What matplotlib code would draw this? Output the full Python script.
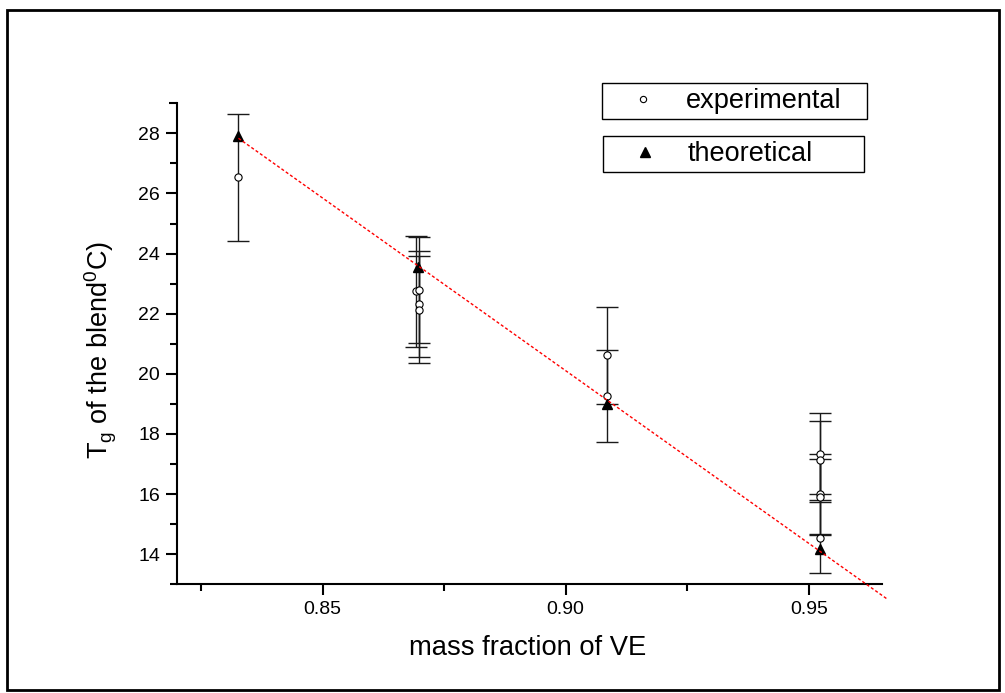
import numpy as np
import matplotlib
matplotlib.use("Agg")
import matplotlib.pyplot as plt
from matplotlib.patches import Rectangle
from matplotlib.lines import Line2D

plt.rcParams['font.family'] = ['Liberation Sans', 'DejaVu Sans']
plt.rcParams['mathtext.default'] = 'regular'

# ---- data ----
exp_x = [0.8327, 0.8692, 0.8698, 0.8698, 0.8698, 0.9086, 0.9086,
         0.9524, 0.9524, 0.9524, 0.9524, 0.9524]
exp_y = [26.54, 22.74, 22.79, 22.33, 22.14, 20.62, 19.28,
         17.35, 17.12, 16.01, 15.91, 14.55]
exp_err = [2.12, 1.85, 1.76, 1.77, 1.79, 1.62, 1.53,
           1.35, 1.31, 1.33, 1.27, 1.18]

theo_x = [0.8327, 0.8696, 0.9086, 0.9524]
theo_y = [27.91, 23.55, 19.01, 14.17]
fit_x_end = 0.9662

xticks = [0.85, 0.90, 0.95]
xtick_labels = ["0.85", "0.90", "0.95"]
yticks = [14, 16, 18, 20, 22, 24, 26, 28]
xlabel = "mass fraction of VE"
ylabel = r"$\mathregular{T_g}$ of the blend$\mathregular{^0}$C)"

W, H = 1005, 693
fig = plt.figure(figsize=(W / 100, H / 100), dpi=100)

def px(x0, y0, x1, y1):
    return [x0 / W, 1 - y1 / H, (x1 - x0) / W, (y1 - y0) / H]

ax = fig.add_axes(px(176.7, 103.3, 881.7, 584.3))
ax.set_xlim(0.82, 0.965)
ax.set_ylim(13.0, 29.0)

# outer frame
fig.patches.append(Rectangle((6.7 / W, 1 - 690 / H), (999 - 6.7) / W, (690 - 10.3) / H,
                             transform=fig.transFigure, fill=False, ec='black', lw=2.0))

# error bars + experimental points
ax.errorbar(exp_x, exp_y, yerr=exp_err, fmt='none', ecolor='#1a1a1a',
            elinewidth=1.0, capsize=8, capthick=1.0, zorder=2)
h_exp, = ax.plot(exp_x, exp_y, linestyle='none', marker='o', ms=5.2,
                 mfc='white', mec='black', mew=0.8, zorder=3)
h_theo, = ax.plot(theo_x, theo_y, linestyle='none', marker='^', ms=7,
                  mfc='black', mec='black', zorder=4)

# theoretical line
coef = np.polyfit(theo_x, theo_y, 1)
lx = np.array([theo_x[0], fit_x_end])
ax.plot(lx, np.polyval(coef, lx), color='red', lw=1.0,
        linestyle=(0, (2.2, 1.6)), zorder=5, clip_on=False)

# axes styling
for s in ['top', 'right']:
    ax.spines[s].set_visible(False)
for s in ['left', 'bottom']:
    ax.spines[s].set_linewidth(1.5)
ax.set_xticks(xticks)
ax.set_xticklabels(xtick_labels)
ax.set_xticks([0.825, 0.875, 0.925], minor=True)
ax.set_yticks(yticks)
ax.set_yticks([15, 17, 19, 21, 23, 25, 27], minor=True)
ax.tick_params(which='major', direction='out', length=8, width=1.5, labelsize=14, pad=4)
ax.tick_params(which='minor', direction='out', length=5, width=1.5)

# small axis overshoots (Origin style)
ax.plot([-0.0095, 0], [0, 0], transform=ax.transAxes, color='black', lw=1.5,
        clip_on=False, solid_capstyle='butt')
ax.plot([-0.0105, 0], [1, 1], transform=ax.transAxes, color='black', lw=1.5,
        clip_on=False, solid_capstyle='butt')

ax.set_xlabel(xlabel, fontsize=19.7)
ax.xaxis.set_label_coords(0.498, -0.132)
ax.xaxis.label.set_va('center')
ax.set_ylabel(ylabel, fontsize=19.5, va='center', ha='center')
ax.yaxis.set_label_coords(-0.108, 0.487)

# legends (two separate boxes)
def add_leg(handle, label, x0, y0, x1):
    bx = ax.transAxes.inverted().transform(fig.transFigure.transform((x0 / W, 1 - y0 / H)))
    bx1 = ax.transAxes.inverted().transform(fig.transFigure.transform((x1 / W, 1 - y0 / H)))
    leg = ax.legend([handle], [label], loc='upper left',
                    bbox_to_anchor=(bx[0], bx[1], bx1[0] - bx[0], 0.0001),
                    mode='expand', fontsize=19.5, frameon=True, fancybox=False,
                    borderpad=0.2, borderaxespad=0, handlelength=2.65,
                    handletextpad=0.25, numpoints=1)
    leg.get_frame().set_edgecolor('black')
    leg.get_frame().set_linewidth(1.0)
    leg.get_frame().set_alpha(1)
    return leg

l_exp = Line2D([], [], linestyle='none', marker='o', ms=4.5, mfc='white', mec='black', mew=0.8)
l_theo = Line2D([], [], linestyle='none', marker='^', ms=6.5, mfc='black', mec='black')
leg1 = add_leg(l_exp, 'experimental', 601.7, 82.7, 866.7)
ax.add_artist(leg1)
leg2 = add_leg(l_theo, 'theoretical', 603.3, 135.7, 864.0)

fig.savefig('out.png', dpi=100)
